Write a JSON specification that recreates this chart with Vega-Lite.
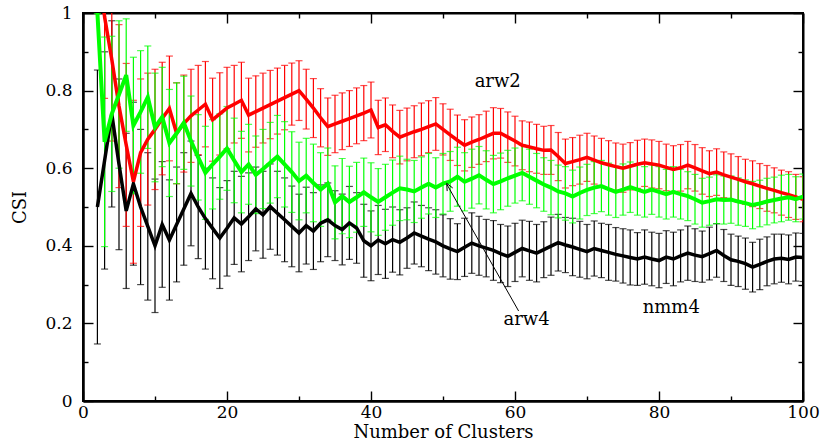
{
  "$schema": "https://vega.github.io/schema/vega-lite/v6.json",
  "width": 720,
  "height": 388,
  "autosize": {"type": "none"},
  "padding": {"left": 83, "top": 13, "right": 24, "bottom": 44},
  "background": "white",
  "config": {
    "view": {"stroke": "black", "strokeWidth": 2},
    "axis": {
      "domainColor": "black", "domainWidth": 2, "tickColor": "black", "tickWidth": 1.4,
      "labelColor": "black", "titleColor": "black",
      "labelFont": "DejaVu Serif", "titleFont": "DejaVu Serif",
      "labelFontSize": 17, "titleFontSize": 18, "titleFontWeight": "normal",
      "grid": false, "labelFlush": false, "labelOverlap": false, "labelBound": false
    }
  },
  "datasets": {
    "nmm4": [
      {"x":2,"m":0.5,"e":0.353},{"x":3,"m":0.62,"e":0.28},{"x":4,"m":0.74,"e":0.24},{"x":5,"m":0.61,"e":0.22},{"x":6,"m":0.49,"e":0.2},
      {"x":7,"m":0.56,"e":0.21},{"x":8,"m":0.5,"e":0.2},{"x":9,"m":0.45,"e":0.19},{"x":10,"m":0.4,"e":0.172},{"x":11,"m":0.455,"e":0.162},
      {"x":12,"m":0.415,"e":0.155},{"x":13,"m":0.455,"e":0.148},{"x":14,"m":0.495,"e":0.145},{"x":15,"m":0.535,"e":0.135},{"x":16,"m":0.5,"e":0.133},
      {"x":17,"m":0.47,"e":0.13},{"x":18,"m":0.445,"e":0.13},{"x":19,"m":0.42,"e":0.13},{"x":20,"m":0.445,"e":0.123},{"x":21,"m":0.472,"e":0.12},
      {"x":22,"m":0.456,"e":0.123},{"x":23,"m":0.475,"e":0.113},{"x":24,"m":0.495,"e":0.108},{"x":25,"m":0.48,"e":0.112},{"x":26,"m":0.501,"e":0.11},
      {"x":27,"m":0.484,"e":0.108},{"x":28,"m":0.467,"e":0.108},{"x":29,"m":0.45,"e":0.104},{"x":30,"m":0.433,"e":0.1},{"x":31,"m":0.452,"e":0.099},
      {"x":32,"m":0.438,"e":0.099},{"x":33,"m":0.458,"e":0.099},{"x":34,"m":0.467,"e":0.095},{"x":35,"m":0.452,"e":0.09},{"x":36,"m":0.442,"e":0.091},
      {"x":37,"m":0.459,"e":0.094},{"x":38,"m":0.446,"e":0.091},{"x":39,"m":0.413,"e":0.094},{"x":40,"m":0.4,"e":0.09},{"x":41,"m":0.415,"e":0.089},
      {"x":42,"m":0.405,"e":0.089},{"x":43,"m":0.416,"e":0.084},{"x":44,"m":0.409,"e":0.084},{"x":45,"m":0.42,"e":0.078},{"x":46,"m":0.433,"e":0.08},
      {"x":47,"m":0.425,"e":0.079},{"x":48,"m":0.417,"e":0.081},{"x":49,"m":0.41,"e":0.083},{"x":50,"m":0.4,"e":0.08},{"x":51,"m":0.392,"e":0.078},
      {"x":52,"m":0.385,"e":0.072},{"x":53,"m":0.396,"e":0.075},{"x":54,"m":0.407,"e":0.078},{"x":55,"m":0.4,"e":0.076},{"x":56,"m":0.394,"e":0.074},
      {"x":57,"m":0.388,"e":0.077},{"x":58,"m":0.38,"e":0.075},{"x":59,"m":0.373,"e":0.078},{"x":60,"m":0.383,"e":0.075},{"x":61,"m":0.393,"e":0.073},
      {"x":62,"m":0.387,"e":0.076},{"x":63,"m":0.381,"e":0.074},{"x":64,"m":0.39,"e":0.072},{"x":65,"m":0.399,"e":0.075},{"x":66,"m":0.408,"e":0.073},
      {"x":67,"m":0.402,"e":0.071},{"x":68,"m":0.397,"e":0.074},{"x":69,"m":0.391,"e":0.072},{"x":70,"m":0.385,"e":0.07},{"x":71,"m":0.393,"e":0.071},
      {"x":72,"m":0.388,"e":0.07},{"x":73,"m":0.383,"e":0.072},{"x":74,"m":0.378,"e":0.069},{"x":75,"m":0.374,"e":0.07},{"x":76,"m":0.37,"e":0.071},
      {"x":77,"m":0.366,"e":0.068},{"x":78,"m":0.371,"e":0.07},{"x":79,"m":0.366,"e":0.069},{"x":80,"m":0.362,"e":0.07},{"x":81,"m":0.371,"e":0.068},
      {"x":82,"m":0.366,"e":0.069},{"x":83,"m":0.374,"e":0.067},{"x":84,"m":0.381,"e":0.07},{"x":85,"m":0.376,"e":0.068},{"x":86,"m":0.372,"e":0.066},
      {"x":87,"m":0.38,"e":0.068},{"x":88,"m":0.388,"e":0.069},{"x":89,"m":0.375,"e":0.067},{"x":90,"m":0.364,"e":0.066},{"x":91,"m":0.36,"e":0.065},
      {"x":92,"m":0.354,"e":0.066},{"x":93,"m":0.345,"e":0.064},{"x":94,"m":0.352,"e":0.065},{"x":95,"m":0.36,"e":0.063},{"x":96,"m":0.366,"e":0.064},
      {"x":97,"m":0.368,"e":0.062},{"x":98,"m":0.365,"e":0.063},{"x":99,"m":0.371,"e":0.062},{"x":100,"m":0.37,"e":0.062}
    ],
    "arw2": [
      {"x":2,"m":1.15,"e":0.1},{"x":3,"m":0.99,"e":0.21},{"x":4,"m":0.88,"e":0.21},{"x":5,"m":0.76,"e":0.21},{"x":6,"m":0.66,"e":0.21},
      {"x":7,"m":0.565,"e":0.21},{"x":8,"m":0.64,"e":0.19},{"x":9,"m":0.675,"e":0.17},{"x":10,"m":0.7,"e":0.155},{"x":11,"m":0.728,"e":0.145},
      {"x":12,"m":0.754,"e":0.135},{"x":13,"m":0.69,"e":0.13},{"x":14,"m":0.715,"e":0.125},{"x":15,"m":0.735,"e":0.12},{"x":16,"m":0.75,"e":0.115},
      {"x":17,"m":0.765,"e":0.11},{"x":18,"m":0.725,"e":0.107},{"x":19,"m":0.74,"e":0.106},{"x":20,"m":0.755,"e":0.105},{"x":21,"m":0.765,"e":0.1},
      {"x":22,"m":0.775,"e":0.098},{"x":23,"m":0.737,"e":0.095},{"x":24,"m":0.746,"e":0.092},{"x":25,"m":0.755,"e":0.09},{"x":26,"m":0.764,"e":0.088},
      {"x":27,"m":0.773,"e":0.085},{"x":28,"m":0.782,"e":0.083},{"x":29,"m":0.791,"e":0.08},{"x":30,"m":0.8,"e":0.077},{"x":31,"m":0.778,"e":0.077},
      {"x":32,"m":0.755,"e":0.076},{"x":33,"m":0.73,"e":0.075},{"x":34,"m":0.707,"e":0.074},{"x":35,"m":0.714,"e":0.074},{"x":36,"m":0.721,"e":0.073},
      {"x":37,"m":0.728,"e":0.072},{"x":38,"m":0.735,"e":0.072},{"x":39,"m":0.742,"e":0.071},{"x":40,"m":0.75,"e":0.072},{"x":41,"m":0.705,"e":0.07},
      {"x":42,"m":0.712,"e":0.069},{"x":43,"m":0.695,"e":0.068},{"x":44,"m":0.68,"e":0.069},{"x":45,"m":0.687,"e":0.068},{"x":46,"m":0.694,"e":0.067},
      {"x":47,"m":0.7,"e":0.068},{"x":48,"m":0.707,"e":0.067},{"x":49,"m":0.714,"e":0.068},{"x":50,"m":0.7,"e":0.066},{"x":51,"m":0.686,"e":0.066},
      {"x":52,"m":0.672,"e":0.065},{"x":53,"m":0.659,"e":0.066},{"x":54,"m":0.667,"e":0.065},{"x":55,"m":0.674,"e":0.064},{"x":56,"m":0.682,"e":0.065},
      {"x":57,"m":0.69,"e":0.066},{"x":58,"m":0.69,"e":0.064},{"x":59,"m":0.68,"e":0.065},{"x":60,"m":0.67,"e":0.064},{"x":61,"m":0.659,"e":0.063},
      {"x":62,"m":0.655,"e":0.064},{"x":63,"m":0.65,"e":0.063},{"x":64,"m":0.646,"e":0.062},{"x":65,"m":0.647,"e":0.063},{"x":66,"m":0.63,"e":0.062},
      {"x":67,"m":0.612,"e":0.063},{"x":68,"m":0.617,"e":0.062},{"x":69,"m":0.622,"e":0.063},{"x":70,"m":0.628,"e":0.062},{"x":71,"m":0.621,"e":0.062},
      {"x":72,"m":0.614,"e":0.063},{"x":73,"m":0.609,"e":0.062},{"x":74,"m":0.604,"e":0.061},{"x":75,"m":0.6,"e":0.062},{"x":76,"m":0.605,"e":0.061},
      {"x":77,"m":0.61,"e":0.062},{"x":78,"m":0.614,"e":0.061},{"x":79,"m":0.611,"e":0.062},{"x":80,"m":0.608,"e":0.061},{"x":81,"m":0.602,"e":0.06},
      {"x":82,"m":0.597,"e":0.061},{"x":83,"m":0.601,"e":0.06},{"x":84,"m":0.608,"e":0.061},{"x":85,"m":0.601,"e":0.06},{"x":86,"m":0.593,"e":0.06},
      {"x":87,"m":0.586,"e":0.059},{"x":88,"m":0.59,"e":0.06},{"x":89,"m":0.583,"e":0.059},{"x":90,"m":0.577,"e":0.06},{"x":91,"m":0.571,"e":0.059},
      {"x":92,"m":0.565,"e":0.058},{"x":93,"m":0.56,"e":0.059},{"x":94,"m":0.554,"e":0.058},{"x":95,"m":0.548,"e":0.059},{"x":96,"m":0.543,"e":0.058},
      {"x":97,"m":0.537,"e":0.058},{"x":98,"m":0.532,"e":0.059},{"x":99,"m":0.526,"e":0.058},{"x":100,"m":0.52,"e":0.058}
    ],
    "arw4": [
      {"x":2,"m":1.0,"e":0},{"x":3,"m":0.668,"e":0.27},{"x":4,"m":0.74,"e":0.2},{"x":5,"m":0.79,"e":0.19},{"x":6,"m":0.84,"e":0.145},
      {"x":7,"m":0.71,"e":0.176},{"x":8,"m":0.745,"e":0.158},{"x":9,"m":0.783,"e":0.132},{"x":10,"m":0.705,"e":0.14},{"x":11,"m":0.732,"e":0.128},
      {"x":12,"m":0.665,"e":0.138},{"x":13,"m":0.69,"e":0.13},{"x":14,"m":0.717,"e":0.12},{"x":15,"m":0.67,"e":0.116},{"x":16,"m":0.628,"e":0.11},
      {"x":17,"m":0.588,"e":0.12},{"x":18,"m":0.61,"e":0.115},{"x":19,"m":0.63,"e":0.11},{"x":20,"m":0.651,"e":0.108},{"x":21,"m":0.62,"e":0.109},
      {"x":22,"m":0.59,"e":0.105},{"x":23,"m":0.61,"e":0.103},{"x":24,"m":0.583,"e":0.1},{"x":25,"m":0.598,"e":0.102},{"x":26,"m":0.614,"e":0.104},
      {"x":27,"m":0.63,"e":0.106},{"x":28,"m":0.61,"e":0.11},{"x":29,"m":0.59,"e":0.104},{"x":30,"m":0.567,"e":0.1},{"x":31,"m":0.581,"e":0.096},
      {"x":32,"m":0.562,"e":0.1},{"x":33,"m":0.545,"e":0.095},{"x":34,"m":0.56,"e":0.092},{"x":35,"m":0.512,"e":0.094},{"x":36,"m":0.528,"e":0.097},
      {"x":37,"m":0.513,"e":0.092},{"x":38,"m":0.525,"e":0.09},{"x":39,"m":0.538,"e":0.088},{"x":40,"m":0.525,"e":0.089},{"x":41,"m":0.513,"e":0.086},
      {"x":42,"m":0.525,"e":0.085},{"x":43,"m":0.537,"e":0.084},{"x":44,"m":0.548,"e":0.083},{"x":45,"m":0.545,"e":0.078},{"x":46,"m":0.54,"e":0.08},
      {"x":47,"m":0.55,"e":0.079},{"x":48,"m":0.56,"e":0.078},{"x":49,"m":0.55,"e":0.077},{"x":50,"m":0.56,"e":0.078},{"x":51,"m":0.566,"e":0.077},
      {"x":52,"m":0.578,"e":0.076},{"x":53,"m":0.565,"e":0.075},{"x":54,"m":0.573,"e":0.076},{"x":55,"m":0.582,"e":0.074},{"x":56,"m":0.57,"e":0.075},
      {"x":57,"m":0.559,"e":0.074},{"x":58,"m":0.566,"e":0.073},{"x":59,"m":0.574,"e":0.072},{"x":60,"m":0.581,"e":0.071},{"x":61,"m":0.588,"e":0.072},
      {"x":62,"m":0.578,"e":0.071},{"x":63,"m":0.568,"e":0.07},{"x":64,"m":0.558,"e":0.069},{"x":65,"m":0.55,"e":0.07},{"x":66,"m":0.54,"e":0.068},
      {"x":67,"m":0.535,"e":0.069},{"x":68,"m":0.527,"e":0.068},{"x":69,"m":0.536,"e":0.067},{"x":70,"m":0.544,"e":0.066},{"x":71,"m":0.55,"e":0.067},
      {"x":72,"m":0.554,"e":0.066},{"x":73,"m":0.546,"e":0.067},{"x":74,"m":0.539,"e":0.066},{"x":75,"m":0.545,"e":0.066},{"x":76,"m":0.551,"e":0.065},
      {"x":77,"m":0.545,"e":0.066},{"x":78,"m":0.539,"e":0.065},{"x":79,"m":0.545,"e":0.064},{"x":80,"m":0.539,"e":0.065},{"x":81,"m":0.533,"e":0.064},
      {"x":82,"m":0.539,"e":0.065},{"x":83,"m":0.533,"e":0.064},{"x":84,"m":0.528,"e":0.063},{"x":85,"m":0.52,"e":0.064},{"x":86,"m":0.511,"e":0.063},
      {"x":87,"m":0.515,"e":0.062},{"x":88,"m":0.52,"e":0.063},{"x":89,"m":0.518,"e":0.062},{"x":90,"m":0.519,"e":0.061},{"x":91,"m":0.514,"e":0.061},
      {"x":92,"m":0.51,"e":0.06},{"x":93,"m":0.505,"e":0.061},{"x":94,"m":0.509,"e":0.06},{"x":95,"m":0.514,"e":0.06},{"x":96,"m":0.518,"e":0.059},
      {"x":97,"m":0.522,"e":0.06},{"x":98,"m":0.525,"e":0.059},{"x":99,"m":0.52,"e":0.058},{"x":100,"m":0.527,"e":0.058}
    ],
    "labels": [
      {"x":57.6,"y":0.822,"t":"arw2"},
      {"x":61.6,"y":0.209,"t":"arw4"},
      {"x":81.7,"y":0.24,"t":"nmm4"}
    ],
    "shaft": [
      {"x":60.5,"y":0.232,"x2":50.55,"y2":0.558}
    ],
    "head": [
      {"o":1,"x":50.58,"y":0.541},
      {"o":2,"x":50.51,"y":0.561},
      {"o":3,"x":51.35,"y":0.549}
    ]
  },
  "layer": [
    {
      "data": {"name": "nmm4"},
      "mark": {"type": "errorbar", "ticks": {"size": 7}, "thickness": 1.2, "color": "black", "clip": true},
      "encoding": {
        "x": {"field": "x", "type": "quantitative", "scale": {"domain": [0, 100], "nice": false},
              "axis": {"orient": "bottom", "values": [0,20,40,60,80,100], "title": "Number of Clusters",
                       "ticks": false, "labelPadding": 3, "titlePadding": 3}},
        "y": {"field": "m", "type": "quantitative", "scale": {"domain": [0, 1], "nice": false},
              "axis": {"orient": "left", "values": [0,0.2,0.4,0.6,0.8,1], "format": "~g", "title": "CSI",
                       "ticks": false, "labelPadding": 11, "titlePadding": 15}},
        "yError": {"field": "e"}
      }
    },
    {
      "data": {"name": "arw2"},
      "mark": {"type": "errorbar", "ticks": {"size": 7}, "thickness": 1.2, "color": "#ff0000", "clip": true},
      "encoding": {
        "x": {"field": "x", "type": "quantitative", "scale": {"domain": [0, 100], "nice": false},
              "axis": {"orient": "top", "values": [0,10,20,30,40,50,60,70,80,90,100], "title": null, "labels": false,
                       "tickSize": {"condition": {"test": "datum.value % 20 === 0", "value": -10}, "value": -5}}},
        "y": {"field": "m", "type": "quantitative", "scale": {"domain": [0, 1], "nice": false},
              "axis": {"orient": "right", "values": [0,0.1,0.2,0.3,0.4,0.5,0.6,0.7,0.8,0.9,1], "title": null, "labels": false,
                       "tickSize": {"condition": {"test": "round(datum.value*10) % 2 === 0", "value": -10}, "value": -5}}},
        "yError": {"field": "e"}
      }
    },
    {
      "data": {"name": "arw4"},
      "mark": {"type": "errorbar", "ticks": {"size": 7}, "thickness": 1.2, "color": "#00ff00", "clip": true},
      "encoding": {
        "x": {"field": "x", "type": "quantitative", "scale": {"domain": [0, 100], "nice": false},
              "axis": {"orient": "bottom", "values": [0,10,20,30,40,50,60,70,80,90,100], "title": null, "labels": false,
                       "tickSize": {"condition": {"test": "datum.value % 20 === 0", "value": -10}, "value": -5}}},
        "y": {"field": "m", "type": "quantitative", "scale": {"domain": [0, 1], "nice": false},
              "axis": {"orient": "left", "values": [0,0.1,0.2,0.3,0.4,0.5,0.6,0.7,0.8,0.9,1], "title": null, "labels": false,
                       "tickSize": {"condition": {"test": "round(datum.value*10) % 2 === 0", "value": -10}, "value": -5}}},
        "yError": {"field": "e"}
      }
    },
    {
      "data": {"name": "nmm4"},
      "mark": {"type": "line", "color": "black", "strokeWidth": 3.5, "clip": true},
      "encoding": {
        "x": {"field": "x", "type": "quantitative", "axis": null},
        "y": {"field": "m", "type": "quantitative", "axis": null}
      }
    },
    {
      "data": {"name": "arw2"},
      "mark": {"type": "line", "color": "#ff0000", "strokeWidth": 3.5, "clip": true},
      "encoding": {
        "x": {"field": "x", "type": "quantitative", "axis": null},
        "y": {"field": "m", "type": "quantitative", "axis": null}
      }
    },
    {
      "data": {"name": "arw4"},
      "mark": {"type": "line", "color": "#00ff00", "strokeWidth": 4, "clip": true},
      "encoding": {
        "x": {"field": "x", "type": "quantitative", "axis": null},
        "y": {"field": "m", "type": "quantitative", "axis": null}
      }
    },
    {
      "data": {"name": "labels"},
      "mark": {"type": "text", "font": "DejaVu Serif", "fontSize": 18, "color": "black", "align": "center", "baseline": "middle"},
      "encoding": {
        "x": {"field": "x", "type": "quantitative", "axis": null},
        "y": {"field": "y", "type": "quantitative", "axis": null},
        "text": {"field": "t"}
      }
    },
    {
      "data": {"name": "shaft"},
      "mark": {"type": "rule", "color": "black", "strokeWidth": 1},
      "encoding": {
        "x": {"field": "x", "type": "quantitative", "axis": null},
        "y": {"field": "y", "type": "quantitative", "axis": null},
        "x2": {"field": "x2"},
        "y2": {"field": "y2"}
      }
    },
    {
      "data": {"name": "head"},
      "mark": {"type": "line", "color": "black", "strokeWidth": 1},
      "encoding": {
        "x": {"field": "x", "type": "quantitative", "axis": null},
        "y": {"field": "y", "type": "quantitative", "axis": null},
        "order": {"field": "o"}
      }
    }
  ]
}
